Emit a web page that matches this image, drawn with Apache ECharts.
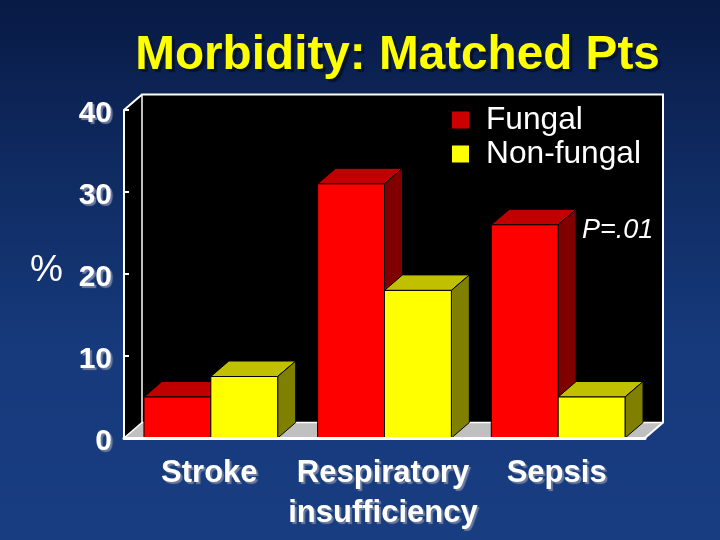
<!DOCTYPE html>
<html><head><meta charset="utf-8">
<style>html,body{margin:0;padding:0;background:#0c2350}#c{width:720px;height:540px}</style>
<script src="https://cdn.jsdelivr.net/npm/echarts@6/dist/echarts.min.js"></script>
</head><body><div id="c"></div>
<script>
const categories = ['Stroke', 'Respiratory\ninsufficiency', 'Sepsis'];
const fungal = [5, 31, 26];
const nonFungal = [7.5, 18, 5];
const yTicks = [0, 10, 20, 30, 40];
const titleText = 'Morbidity: Matched Pts';
const yUnit = '%';
const pNote = 'P=.01';

const DX = 18, DY = -15.5, BAND_RATIO = 67 / 174;
const FONT = '"Liberation Sans", Arial, sans-serif';

function bar3d(side, front, top, right) {
  return function (params, api) {
    const cat = api.value(0), val = api.value(1);
    const p1 = api.coord([cat, val]), p0 = api.coord([cat, 0]);
    const w = api.size([1, 0])[0] * BAND_RATIO;
    const xL = side < 0 ? p1[0] - w : p1[0], xR = xL + w;
    const st = { stroke: '#000', lineWidth: 1 };
    return { type: 'group', children: [
      { type: 'polygon', shape: { points: [[xL, p1[1]], [xL + DX, p1[1] + DY], [xR + DX, p1[1] + DY], [xR, p1[1]]] }, style: Object.assign({ fill: top }, st) },
      { type: 'polygon', shape: { points: [[xR, p1[1]], [xR + DX, p1[1] + DY], [xR + DX, p0[1] + DY], [xR, p0[1]]] }, style: Object.assign({ fill: right }, st) },
      { type: 'rect', shape: { x: xL, y: p1[1], width: w, height: p0[1] - p1[1] }, style: Object.assign({ fill: front }, st) }
    ] };
  };
}

function frame(params) {
  const g = params.coordSys, L = g.x, R = g.x + g.width, T = g.y, B = g.y + g.height;
  const line = { stroke: '#fff', lineWidth: 2, fill: null };
  return { type: 'group', children: [
    { type: 'polygon', shape: { points: [[L, T], [L + DX, T + DY], [R + DX, T + DY], [R + DX, B + DY], [R, B], [L, B]] }, style: { fill: '#000' } },
    { type: 'polygon', shape: { points: [[L, B], [L + DX, B + DY], [R + DX, B + DY], [R, B]] }, style: { fill: '#c0c0c0' } },
    { type: 'polyline', shape: { points: [[L, T], [L + DX, T + DY], [R + DX, T + DY], [R + DX, B + DY], [R, B]] }, style: line },
    { type: 'polyline', shape: { points: [[L + DX, T + DY], [L + DX, B + DY], [R + DX, B + DY]] }, style: { stroke: '#fff', lineWidth: 1.5, fill: null } },
    { type: 'line', shape: { x1: L, y1: B, x2: L + DX, y2: B + DY }, style: { stroke: '#fff', lineWidth: 1.5 } },
    { type: 'line', shape: { x1: L, y1: T, x2: L, y2: B }, style: line }
  ] };
}

const chart = echarts.init(document.getElementById('c'), null, { renderer: 'canvas' });
chart.setOption({
  animation: false,
  backgroundColor: { type: 'linear', x: 0, y: 0, x2: 0, y2: 1, colorStops: [
    { offset: 0, color: '#081a45' }, { offset: 0.3, color: '#0f2a60' }, { offset: 0.65, color: '#163a7c' }, { offset: 1, color: '#183d80' }] },
  title: { text: titleText, left: 392.5, top: 27, textAlign: 'center',
    textStyle: { color: '#ffff00', fontFamily: FONT, fontWeight: 'bold', fontSize: 47.7,
      textShadowColor: '#06122e', textShadowBlur: 1, textShadowOffsetX: 3, textShadowOffsetY: 3 } },
  legend: { left: 452, top: 103, padding: 0, orient: 'vertical', itemWidth: 17, itemHeight: 17, itemGap: 0, selectedMode: false,
    data: [{ name: 'Fungal', icon: 'rect' }, { name: 'Non-fungal', icon: 'rect' }],
    textStyle: { color: '#fff', fontFamily: FONT, fontSize: 31.7, lineHeight: 34, padding: [0, 0, 0, 12] } },
  grid: { left: 124, right: 75, top: 110, bottom: 102, containLabel: false },
  xAxis: { type: 'category', data: categories, z: 5,
    axisLine: { show: true, lineStyle: { color: '#fff', width: 3 } },
    axisTick: { show: false },
    axisLabel: { color: '#fff', fontFamily: FONT, fontWeight: 'bold', fontSize: 31, lineHeight: 40, margin: 15, interval: 0,
      padding: [0, 3, 0, 0],
      textShadowColor: '#6e7da0', textShadowBlur: 1, textShadowOffsetX: 2, textShadowOffsetY: 2 } },
  yAxis: { type: 'value', min: yTicks[0], max: yTicks[yTicks.length - 1], interval: 10, z: 5,
    splitLine: { show: false },
    axisLine: { show: true, lineStyle: { color: '#fff', width: 2 } },
    axisTick: { show: true, inside: true, length: 5, lineStyle: { color: '#fff', width: 2 } },
    axisLabel: { color: '#fff', fontFamily: FONT, fontWeight: 'bold', fontSize: 30, margin: 12, verticalAlign: 'top', lineHeight: 7,
      textShadowColor: '#6e7da0', textShadowBlur: 1, textShadowOffsetX: 2, textShadowOffsetY: 2 } },
  series: [
    { type: 'custom', name: 'frame', z: 1, silent: true, clip: false, renderItem: frame, data: [[0, 0]], encode: { x: 0, y: 1 } },
    { type: 'custom', name: 'Fungal', z: 2, clip: false, itemStyle: { color: '#cc0000' }, renderItem: bar3d(-1, '#ff0000', '#c00000', '#800000'),
      data: fungal.map((v, i) => [i, v]), encode: { x: 0, y: 1 } },
    { type: 'custom', name: 'Non-fungal', z: 3, clip: false, itemStyle: { color: '#ffff00' }, renderItem: bar3d(1, '#ffff00', '#c0c000', '#808000'),
      data: nonFungal.map((v, i) => [i, v]), encode: { x: 0, y: 1 } }
  ],
  graphic: [
    { type: 'text', z: 10, left: 30, top: 252, style: { text: yUnit, fill: '#fff', font: '37px ' + FONT, textShadowColor: '#6e7da0', textShadowOffsetX: 1, textShadowOffsetY: 1 } },
    { type: 'text', z: 10, left: 582, top: 217, style: { text: pNote, fill: '#fff', font: 'italic 27px ' + FONT, textShadowColor: '#8a8a8a', textShadowOffsetX: 2, textShadowOffsetY: 2 } }
  ]
});
</script></body></html>
